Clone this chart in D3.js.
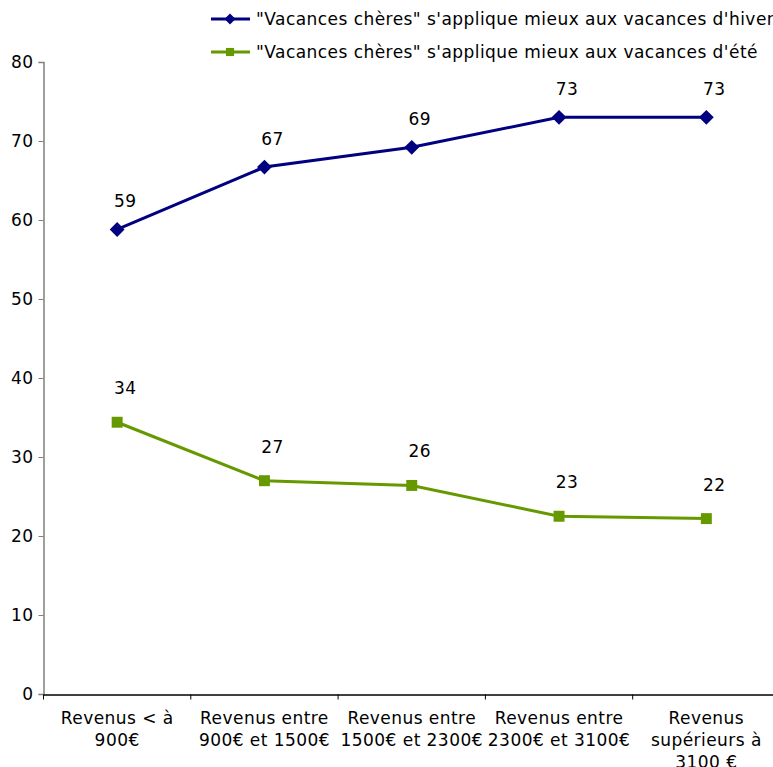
<!DOCTYPE html>
<html><head><meta charset="utf-8">
<script src="https://cdn.jsdelivr.net/npm/d3@7"></script>
<style>body{margin:0;background:#fff}svg{display:block;font-family:"DejaVu Sans",Verdana,sans-serif}</style>
</head><body><svg id="c" width="773" height="767"></svg>
<script>
const categories = [["Revenus < à","900€"],["Revenus entre","900€ et 1500€"],["Revenus entre","1500€ et 2300€"],["Revenus entre","2300€ et 3100€"],["Revenus","supérieurs à","3100 €"]];
const hiver = [58.8, 66.7, 69.2, 73.0, 73.0];
const hiverLabels = ["59","67","69","73","73"];
const ete = [34.4, 27.0, 26.4, 22.5, 22.2];
const eteLabels = ["34","27","26","23","22"];
const yTicks = [0,10,20,30,40,50,60,70,80];
const seriesNames = ["\"Vacances chères\" s'applique mieux aux vacances d'hiver","\"Vacances chères\" s'applique mieux aux vacances d'été"];

const svg = d3.select("#c");
const x = d3.scaleBand().domain(d3.range(categories.length)).range([43.5, 780]);
const y = d3.scaleLinear().domain([0,80]).range([694, 62]);
const fs = 17, ls = 0.45;

// y axis
const ya = svg.append("g").attr("transform","translate(43.5,0)")
  .call(d3.axisLeft(y).tickValues(yTicks).tickSize(5).tickPadding(5));
ya.select(".domain").attr("stroke","#808080").attr("stroke-width",1.5);
ya.selectAll(".tick line").attr("stroke","#808080");
ya.selectAll("text").attr("font-size",fs).attr("font-family","DejaVu Sans").attr("fill","#000").attr("letter-spacing",ls);

// x axis
const xa = svg.append("g").attr("transform","translate(0,694.5)")
  .call(d3.axisBottom(x).tickSize(0).tickFormat(""));
xa.select(".domain").attr("stroke","#000").attr("stroke-width",1.5);
xa.selectAll(".tick").remove();
const bounds = d3.range(categories.length+1).map(i => i < categories.length ? x(i) : x(i-1)+x.bandwidth());
xa.selectAll(".bt").data(bounds).join("line").attr("class","bt")
  .attr("x1",d=>d).attr("x2",d=>d).attr("y1",0).attr("y2",5).attr("stroke","#000");
categories.forEach((lines,i) => {
  const t = svg.append("text").attr("text-anchor","middle").attr("font-size",fs).attr("fill","#000").attr("letter-spacing",ls);
  lines.forEach((l,j) => t.append("tspan").attr("x", x(i)+x.bandwidth()/2).attr("y", 724 + j*22).text(l));
});

const cx = i => x(i) + x.bandwidth()/2;
const line = d3.line().x((d,i)=>cx(i)).y(d=>y(d));
const series = [
  {vals:hiver, labels:hiverLabels, color:"#000080", sym:d3.symbolDiamond2, size:140, dy:-22},
  {vals:ete, labels:eteLabels, color:"#669900", sym:d3.symbolSquare, size:120, dy:-28}
];
series.forEach(s => {
  svg.append("path").datum(s.vals).attr("d",line).attr("fill","none").attr("stroke",s.color).attr("stroke-width",3);
  svg.selectAll(null).data(s.vals).join("path")
    .attr("transform",(d,i)=>`translate(${cx(i)},${y(d)})`)
    .attr("d",d3.symbol().type(s.sym).size(s.size)).attr("fill",s.color);
  svg.selectAll(null).data(s.vals).join("text")
    .attr("x",(d,i)=>cx(i)+8).attr("y",d=>y(d)+s.dy).attr("text-anchor","middle")
    .attr("font-size",fs).attr("fill","#000").attr("letter-spacing",ls).text((d,i)=>s.labels[i]);
});

// legend
series.forEach((s,i) => {
  const ly = 19 + i*33;
  svg.append("line").attr("x1",211).attr("x2",250).attr("y1",ly).attr("y2",ly).attr("stroke",s.color).attr("stroke-width",3);
  svg.append("path").attr("transform",`translate(230,${ly})`).attr("d",d3.symbol().type(s.sym).size(s.size*0.55)).attr("fill",s.color);
  svg.append("text").attr("x",256).attr("y",ly+6).attr("font-size",fs).attr("fill","#000").attr("letter-spacing",ls).text(seriesNames[i]);
});
</script></body></html>
